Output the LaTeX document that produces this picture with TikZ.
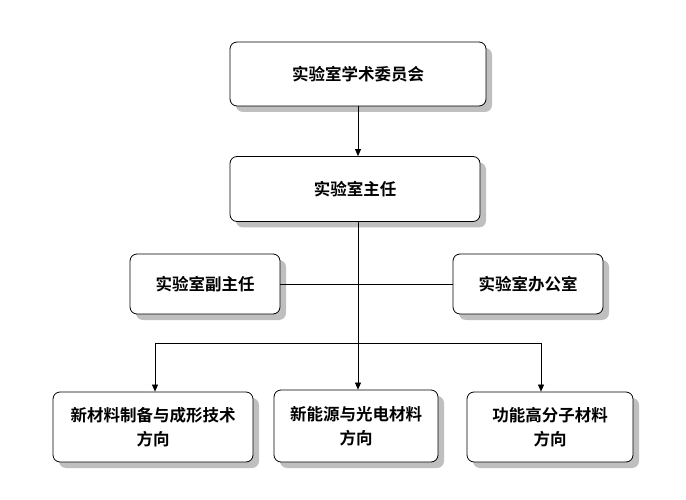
\documentclass[tikz,border=0pt]{standalone}
\usepackage{fontspec}
\newfontfamily\cjk{Noto Sans CJK SC}[BoldFont={Noto Sans CJK SC Bold}]
\usetikzlibrary{arrows.meta,shadows}
\begin{document}
\begin{tikzpicture}[x=1pt,y=-1pt,
  box/.style={draw=black,line width=0.8pt,rounded corners=7pt,fill=white,
    drop shadow={shadow xshift=6pt,shadow yshift=-6pt,fill=black!25,opacity=1},
    font=\cjk\bfseries\fontsize{16.5}{24}\selectfont,align=center,inner sep=0pt},
  conn/.style={line width=0.7pt},
  arr/.style={conn,-{Triangle[length=7pt,width=6pt]}}]
\useasboundingbox (0,0) rectangle (686,500);
\node[box,minimum width=256pt,minimum height=64pt] (acad) at (358,74) {实验室学术委员会};
\node[box,minimum width=250pt,minimum height=65pt] (dir) at (355,189) {实验室主任};
\node[box,minimum width=150pt,minimum height=60pt] (dep) at (205,284) {实验室副主任};
\node[box,minimum width=150pt,minimum height=60pt] (off) at (528,284) {实验室办公室};
\node[box,minimum width=200pt,minimum height=70pt] (b1) at (153,427) {新材料制备与成形技术\\方向};
\node[box,minimum width=164pt,minimum height=72pt] (b2) at (356,426) {新能源与光电材料\\方向};
\node[box,minimum width=166pt,minimum height=70pt] (b3) at (550,427) {功能高分子材料\\方向};
\coordinate (jl) at (155,343);
\coordinate (jr) at (541,343);
\draw[arr] (acad.south -| 358,0) -- (dir.north -| 358,0);
\draw[conn] (dep.east) -- (off.west);
\draw[arr] (dir.south -| 358,0) -- (b2.north -| 358,0);
\draw[conn] (jl) -- (jr);
\draw[arr] (jl) -- (b1.north -| jl);
\draw[arr] (jr) -- (b3.north -| jr);
\end{tikzpicture}
\end{document}
